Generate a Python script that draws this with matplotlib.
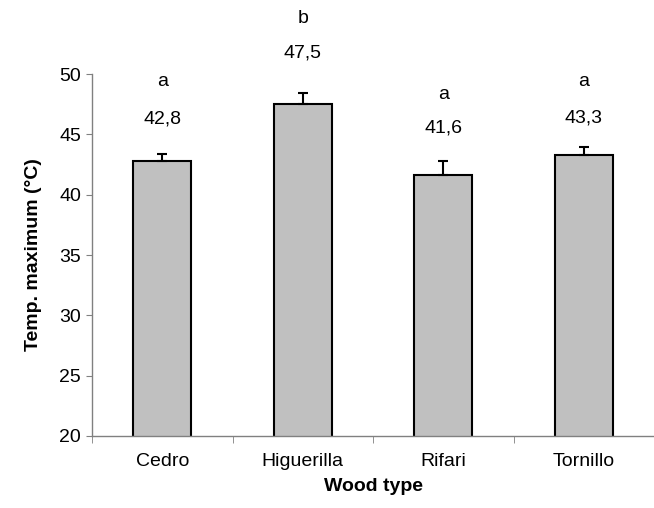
import matplotlib
matplotlib.use("Agg")
import matplotlib.pyplot as plt
import numpy as np

plt.rcParams["font.family"] = ["Liberation Sans", "DejaVu Sans"]

woods = ["Cedro", "Higuerilla", "Rifari", "Tornillo"]
temp_max = [42.8, 47.5, 41.6, 43.3]
err = [0.6, 0.9, 1.2, 0.65]
groups = ["a", "b", "a", "a"]
value_labels = ["42,8", "47,5", "41,6", "43,3"]
# text heights in data units
value_y = [46.27, 51.74, 45.52, 46.35]
letter_y = [49.34, 54.64, 48.34, 49.34]

fig = plt.figure(figsize=(6.54, 5.08), dpi=100)
ax = fig.add_axes([92 / 654, 1 - 436 / 508, 562 / 654, 362 / 508])

x = np.arange(len(woods))
ax.bar(x, temp_max, width=0.41, color="#c0c0c0", edgecolor="black",
       linewidth=1.5, zorder=2)
ax.errorbar(x, temp_max, yerr=[np.zeros(len(err)), err], fmt="none",
            ecolor="black", elinewidth=1.5, capsize=3.5, capthick=1.5, zorder=3)

for i in range(len(woods)):
    ax.text(x[i], value_y[i], value_labels[i], ha="center", va="center",
            fontsize=14, clip_on=False)
    ax.text(x[i], letter_y[i], groups[i], ha="center", va="center",
            fontsize=14, clip_on=False)

ax.set_ylim(20, 50)
ax.set_yticks(range(20, 51, 5))
ax.set_xlim(-0.5, 3.5)
ax.set_xticks(x)
ax.set_xticklabels(woods)
ax.set_xticks([-0.5, 0.5, 1.5, 2.5, 3.5], minor=True)
ax.tick_params(axis="x", which="major", length=0, pad=12, labelsize=14)
ax.tick_params(axis="x", which="minor", length=5, color="#808080", direction="out")
ax.tick_params(axis="y", length=4, color="#808080", labelsize=14, direction="out", pad=4)

for s in ["top", "right"]:
    ax.spines[s].set_visible(False)
for s in ["left", "bottom"]:
    ax.spines[s].set_color("#808080")
    ax.spines[s].set_linewidth(1.0)

ax.set_xlabel("Wood type", fontsize=14, fontweight="bold", labelpad=6)
ax.set_ylabel("Temp. maximum (°C)", fontsize=14, fontweight="bold", labelpad=12)

fig.savefig("out.png", dpi=100)
